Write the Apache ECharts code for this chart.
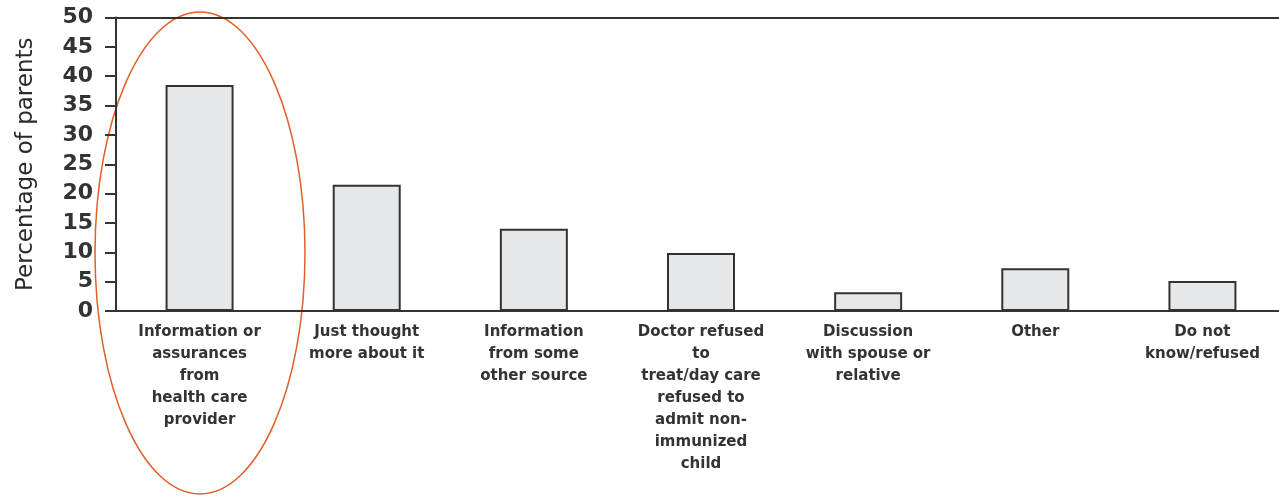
<!DOCTYPE html>
<html><head><meta charset="utf-8">
<script src="https://cdn.jsdelivr.net/npm/echarts@6/dist/echarts.min.js"></script>
<style>html,body{margin:0;padding:0;background:#fff}#c{width:1279px;height:500px}</style>
</head><body><div id="c"></div>
<script>
var categories = [
  "Information or\nassurances\nfrom\nhealth care\nprovider",
  "Just thought\nmore about it",
  "Information\nfrom some\nother source",
  "Doctor refused\nto\ntreat/day care\nrefused to\nadmit non-\nimmunized\nchild",
  "Discussion\nwith spouse or\nrelative",
  "Other",
  "Do not\nknow/refused"
];
var values = [38.5, 21.5, 14.0, 9.9, 3.2, 7.3, 5.1];
var yTicks = {min: 0, max: 50, interval: 5};
var yName = "Percentage of parents";

var chart = echarts.init(document.getElementById('c'), null, {renderer: 'canvas'});
chart.setOption({
  animation: false,
  backgroundColor: '#fff',
  grid: {left: 116, width: 1170, top: 17.5, bottom: 189, containLabel: false, outerBoundsMode: 'none'},
  xAxis: [{
    type: 'category', data: categories, position: 'bottom',
    axisLine: {lineStyle: {color: '#333', width: 2}},
    axisTick: {show: false},
    axisLabel: {interval: 0, margin: 10, color: '#333', fontFamily: 'DejaVu Sans', fontWeight: 'bold', fontSize: 15, lineHeight: 22}
  }, {
    type: 'category', data: categories, position: 'top',
    axisLine: {lineStyle: {color: '#333', width: 2}},
    axisTick: {show: false}, axisLabel: {show: false}
  }],
  yAxis: {
    type: 'value', min: yTicks.min, max: yTicks.max, interval: yTicks.interval,
    name: yName, nameLocation: 'middle', nameGap: 78, nameRotate: 90,
    nameTextStyle: {color: '#2a2a2a', fontFamily: 'DejaVu Sans', fontSize: 23},
    axisLine: {show: true, lineStyle: {color: '#333', width: 2}},
    axisTick: {show: true, length: 11, lineStyle: {color: '#333', width: 2}},
    splitLine: {show: false},
    axisLabel: {margin: 23, color: '#333', fontFamily: 'DejaVu Sans', fontWeight: 'bold', fontSize: 22}
  },
  series: [{
    type: 'bar', data: values, barWidth: 68,
    itemStyle: {color: '#e6e7e8', borderColor: '#333', borderWidth: 2}
  }],
  graphic: [{
    type: 'ellipse', silent: true,
    shape: {cx: 200, cy: 253, rx: 105, ry: 241},
    style: {fill: 'none', stroke: '#e06028', lineWidth: 1.5}
  }]
});
</script></body></html>
